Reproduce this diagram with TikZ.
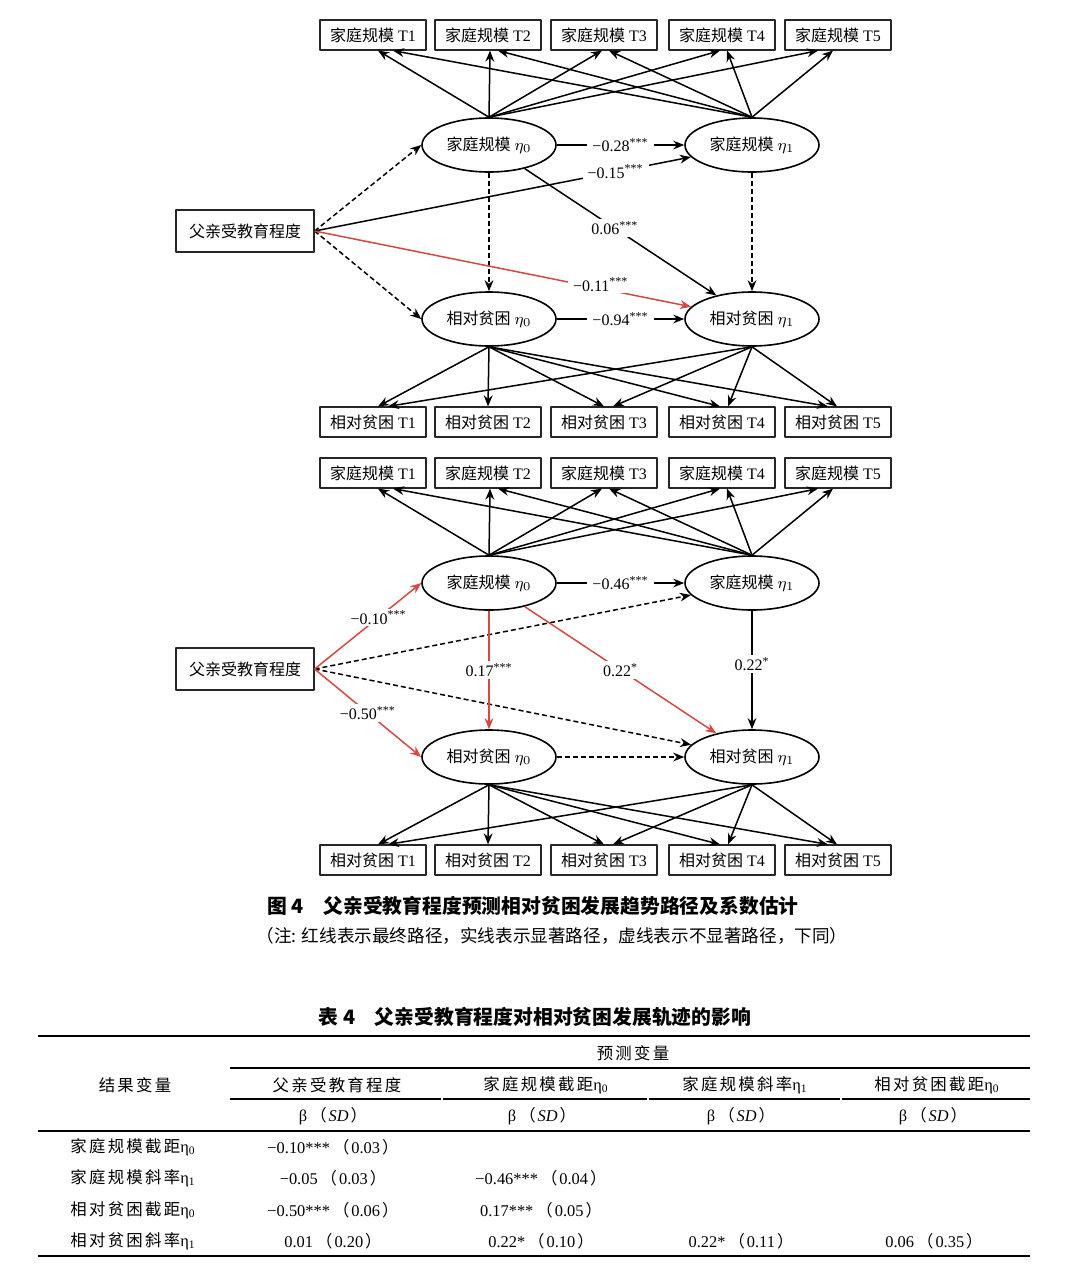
\documentclass[tikz,border=0pt]{standalone}
\usepackage{fontspec}
\usetikzlibrary{shapes.geometric,arrows.meta}
\setmainfont{Liberation Serif}
\newfontfamily\cjk{Noto Sans CJK SC}
\newfontfamily\cjkw[LetterSpace=14]{Noto Sans CJK SC}
\definecolor{finalred}{RGB}{214,72,66}
\newcommand\sdpar[1]{\hspace{1.5pt}{\cjk （}\hspace{1pt}#1\hspace{1pt}{\cjk ）}}

\begin{document}
\begin{tikzpicture}[x=0.5pt, y=-0.5pt, font=\fontsize{8}{9}\selectfont, line join=round, >={Stealth[length=5.5pt,width=4.4pt]},
	obs/.style={draw=black!85, line width=0.6pt, minimum width=53pt, minimum height=15pt, inner sep=1pt},
	lat/.style={draw, ellipse, line width=0.8pt, minimum width=67pt, minimum height=27pt, inner sep=0pt},
	pth/.style={->, line width=0.75pt},
	ns/.style={pth, dash pattern=on 2.5pt off 1.5pt},
	fin/.style={pth, draw=finalred},
	coef/.style={fill=white, inner xsep=2.5pt, inner ysep=1pt, text=black},
	tab/.style={font=\fontsize{8.2}{10}\selectfont, inner sep=0pt}]
\useasboundingbox (0,0) rectangle (1080,1276);

% the two path models
\foreach \p/\dy in {a/0,b/438}{
	\foreach \i/\x in {1/373,2/488,3/604,4/722,5/838}{
		\node[obs] (f\p\i) at (\x,{35+\dy}) {{\cjk 家庭规模} T\i};
		\node[obs] (r\p\i) at (\x,{422+\dy}) {{\cjk 相对贫困} T\i};
	}
	\node[lat] (fi\p) at (489,{145+\dy}) {{\cjk 家庭规模} $\eta_0$};
	\node[lat] (fs\p) at (752,{145+\dy}) {{\cjk 家庭规模} $\eta_1$};
	\node[lat] (pi\p) at (489,{319+\dy}) {{\cjk 相对贫困} $\eta_0$};
	\node[lat] (ps\p) at (752,{319+\dy}) {{\cjk 相对贫困} $\eta_1$};
	\node[obs, minimum width=69pt, minimum height=21pt] (ed\p) at (245,{231+\dy}) {\cjk 父亲受教育程度};
	% loadings
	\foreach \i/\u/\v in {1/5/20,2/2/10,3/-2/5,4/-2/5,5/-20/-5}{
		\draw[pth] (fi\p.north) -- ([xshift={\u*0.5pt}]f\p\i.south);
		\draw[pth] (fs\p.north) -- ([xshift={\v*0.5pt}]f\p\i.south);
	}
	\foreach \i/\u in {1/5,2/0,3/0,4/-2,5/-10}
		\draw[pth] (pi\p.south) -- ([xshift={\u*0.5pt}]r\p\i.north);
	\foreach \i/\v in {1/15,3/9,4/6,5/-1}
		\draw[pth] (ps\p.south) -- ([xshift={\v*0.5pt}]r\p\i.north);
}

% model 1
\draw[ns] (eda.east) -- (fia.west);
\draw[ns] (eda.east) -- (pia.west);
\draw[ns] (fia) -- (pia);
\draw[ns] (fsa) -- (psa);
\draw[pth] (eda.east) -- node[coef, pos=0.8] {−0.15\textsuperscript{***}} (fsa);
\draw[fin] (eda.east) -- node[coef, pos=0.76, yshift=2pt] {−0.11\textsuperscript{***}} (psa);
\draw[pth] (fia) -- node[coef] {−0.28\textsuperscript{***}} (fsa);
\draw[pth] (pia) -- node[coef] {−0.94\textsuperscript{***}} (psa);
\draw[pth] (fia) -- node[coef, pos=0.47] {0.06\textsuperscript{***}} (psa);

% model 2
\draw[ns] (edb.east) -- (fsb);
\draw[ns] (edb.east) -- (psb);
\draw[ns] (pib) -- (psb);
\draw[fin] (edb.east) -- node[coef, pos=0.6] {−0.10\textsuperscript{***}} (fib.west);
\draw[fin] (edb.east) -- node[coef] {−0.50\textsuperscript{***}} (pib.west);
\draw[pth] (fib) -- node[coef] {−0.46\textsuperscript{***}} (fsb);
\draw[fin] (fib) -- node[coef] {0.17\textsuperscript{***}} (pib);
\draw[pth] (fsb) -- node[coef, pos=0.45] {0.22\textsuperscript{*}} (psb);
\draw[fin] (fib) -- node[coef] {0.22\textsuperscript{*}} (psb);

% caption
\node[font=\fontsize{9.9}{11}\selectfont] (cap) at (533,906) {\cjk\bfseries 图 4\hspace{1em}父亲受教育程度预测相对贫困发展趋势路径及系数估计};
\node[font=\fontsize{8.8}{10}\selectfont] (capnote) at (552,936) {\cjk （注: 红线表示最终路径，实线表示显著路径，虚线表示不显著路径，下同）};

% table 4
\node[font=\fontsize{9.9}{11}\selectfont] (tabtitle) at (535,1017) {\cjk\bfseries 表 4\hspace{1em}父亲受教育程度对相对贫困发展轨迹的影响};
\draw[line width=1.1pt] (38,1036) -- (1030,1036);
\draw[line width=0.6pt] (230,1068) -- (1030,1068);
\foreach \a/\b in {230/441,443/647,649/840,842/1030}
	\draw[line width=0.6pt] (\a,1099) -- (\b,1099);
\draw[line width=0.7pt] (38,1131) -- (1030,1131);
\draw[line width=1.1pt] (38,1256) -- (1030,1256);
\node[tab] (predvar) at (633,1053) {\cjkw 预测变量};
\node[tab] (outvar) at (135,1085) {\cjkw 结果变量};
\foreach \j/\x/\t in {1/337/{\cjkw 父亲受教育程度},2/546/{{\cjkw 家庭规模截距}η\textsubscript{0}},3/745/{{\cjkw 家庭规模斜率}η\textsubscript{1}},4/937/{{\cjkw 相对贫困截距}η\textsubscript{0}}}{
	\node[tab] (head\j) at (\x,1085) {\t};
	\node[tab] (beta\j) at ({\x-4},1116) {β\sdpar{\textit{SD}}};
}
\foreach \k/\y/\t in {1/1147/{{\cjkw 家庭规模截距}η\textsubscript{0}},2/1178/{{\cjkw 家庭规模斜率}η\textsubscript{1}},3/1210/{{\cjkw 相对贫困截距}η\textsubscript{0}},4/1241/{{\cjkw 相对贫困斜率}η\textsubscript{1}}}
	\node[tab, anchor=west] (row\k) at (70,\y) {\t};
\node[tab] (c11) at (333,1147) {−0.10***\sdpar{0.03}};
\node[tab] (c21) at (333,1178) {−0.05\sdpar{0.03}};
\node[tab] (c22) at (541,1178) {−0.46***\sdpar{0.04}};
\node[tab] (c31) at (333,1210) {−0.50***\sdpar{0.06}};
\node[tab] (c32) at (541,1210) {0.17***\sdpar{0.05}};
\node[tab] (c41) at (333,1241) {0.01\sdpar{0.20}};
\node[tab] (c42) at (541,1241) {0.22*\sdpar{0.10}};
\node[tab] (c43) at (741,1241) {0.22*\sdpar{0.11}};
\node[tab] (c44) at (934,1241) {0.06\sdpar{0.35}};
\end{tikzpicture}
\end{document}
